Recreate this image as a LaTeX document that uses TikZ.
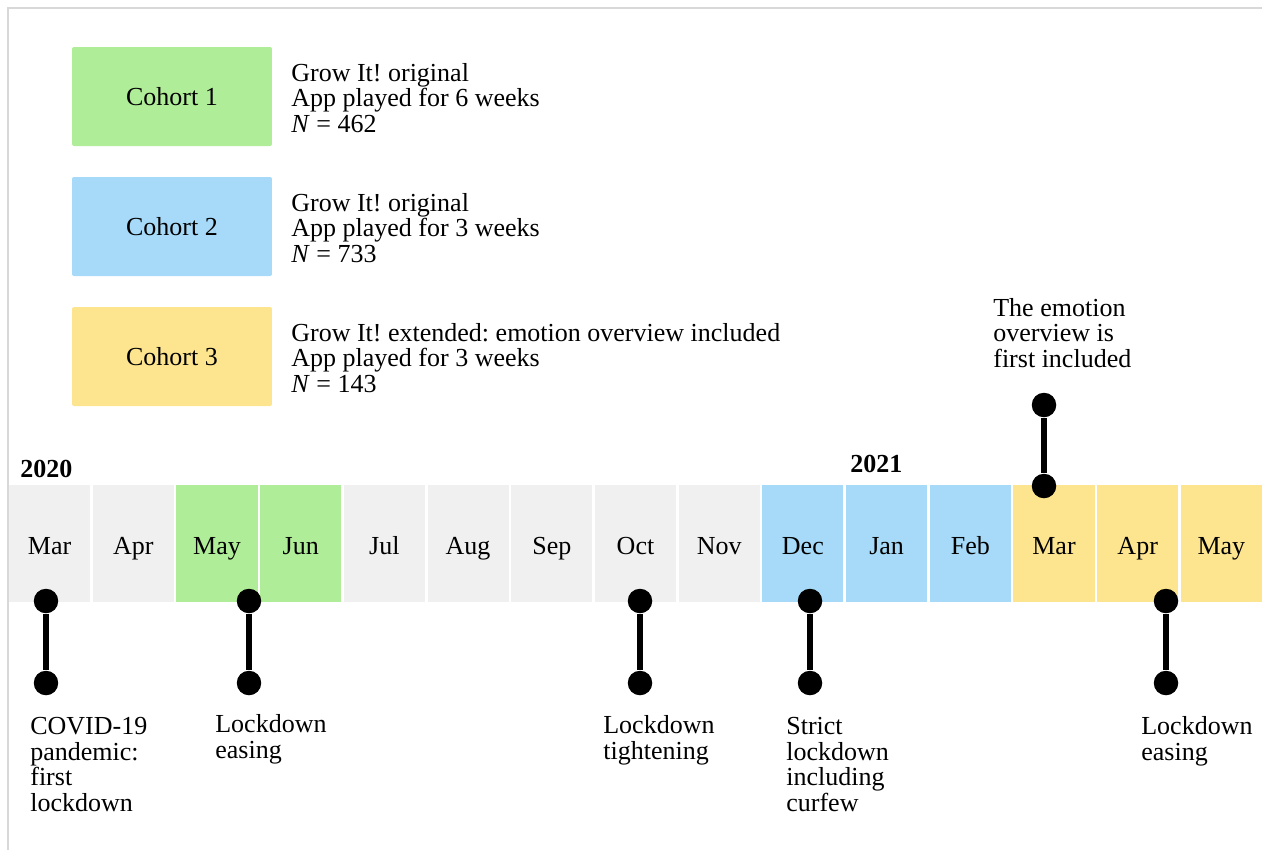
\documentclass[tikz,border=0pt]{standalone}
\usepackage{fontspec}
\setmainfont{Liberation Serif}
\frenchspacing
\definecolor{cellgray}{HTML}{F0F0F0}
\definecolor{cgreen}{HTML}{B0ED98}
\definecolor{cblue}{HTML}{A6DAF8}
\definecolor{cyellow}{HTML}{FDE590}
\definecolor{framegray}{HTML}{D8D8D8}
\begin{document}
\begin{tikzpicture}[x=0.02cm,y=-0.02cm,
  every node/.style={font=\fontsize{14.8}{14.5}\selectfont, inner sep=0pt},
  cohortbox/.style={minimum width=4cm, minimum height=1.98cm, rounded corners=0.04cm,
    text height=1.3em, text depth=0.23em, align=center},
  cell/.style={minimum width=1.624cm, minimum height=2.34cm,
    text height=1.43em, text depth=0.23em},
  desc/.style={anchor=base west, align=left},
  dot/.style={circle, fill=black, minimum size=0.49cm},
  stem/.style={line width=0.13cm, black}
]
\useasboundingbox (0,0) rectangle (1262,850);
% frame
\draw[framegray, line width=0.04cm] (8,850) -- (8,8) -- (1262,8);

% cohorts
\node[cohortbox, fill=cgreen]  (k1) at (172,96.5) {Cohort 1};
\node[cohortbox, fill=cblue]   (k2) at (172,226.5) {Cohort 2};
\node[cohortbox, fill=cyellow] (k3) at (172,356.5) {Cohort 3};
% (anchor = baseline of the last line)
\node[desc] (t1) at (291,132) {Grow It! original\\App played for 6 weeks\\\textit{N} = 462};
\node[desc] (t2) at (291,262) {Grow It! original\\App played for 3 weeks\\\textit{N} = 733};
\node[desc] (t3) at (291,392) {Grow It! extended: emotion overview included\\App played for 3 weeks\\\textit{N} = 143};

% years
\node[anchor=base west] (y20) at (20,477) {\textbf{2020}};
\node[anchor=base west] (y21) at (850,472) {\textbf{2021}};

% months
\foreach \i/\m/\c in {0/Mar/cellgray,1/Apr/cellgray,2/May/cgreen,3/Jun/cgreen,4/Jul/cellgray,
  5/Aug/cellgray,6/Sep/cellgray,7/Oct/cellgray,8/Nov/cellgray,9/Dec/cblue,10/Jan/cblue,
  11/Feb/cblue,12/Mar/cyellow,13/Apr/cyellow,14/May/cyellow}{
  \node[cell, fill=\c] (m\i) at ({49.6+83.7*\i},543.5) {\m};
}

% events below
\node[dot] (a1) at (46,601) {};
\node[dot] (b1) at (46,683) {};
\draw[stem] (a1) -- (b1);
\node[dot] (a2) at (249,601) {};
\node[dot] (b2) at (249,683) {};
\draw[stem] (a2) -- (b2);
\node[dot] (a3) at (640,601) {};
\node[dot] (b3) at (640,683) {};
\draw[stem] (a3) -- (b3);
\node[dot] (a4) at (810,601) {};
\node[dot] (b4) at (810,683) {};
\draw[stem] (a4) -- (b4);
\node[dot] (a5) at (1166,601) {};
\node[dot] (b5) at (1166,683) {};
\draw[stem] (a5) -- (b5);
% event above
\node[dot] (a6) at (1044,405) {};
\node[dot] (b6) at (1044,486) {};
\draw[stem] (a6) -- (b6);

% event labels (anchor = baseline of the last line)
\node[desc] (e1) at (30,811) {COVID-19\\pandemic:\\first\\lockdown};
\node[desc] (e2) at (215,758) {Lockdown\\easing};
\node[desc] (e3) at (603,759) {Lockdown\\tightening};
\node[desc] (e4) at (786,811) {Strict\\lockdown\\including\\curfew};
\node[desc] (e5) at (1141,760) {Lockdown\\easing};
\node[desc] (e6) at (993,367) {The emotion\\overview is\\first included};
\end{tikzpicture}
\end{document}
